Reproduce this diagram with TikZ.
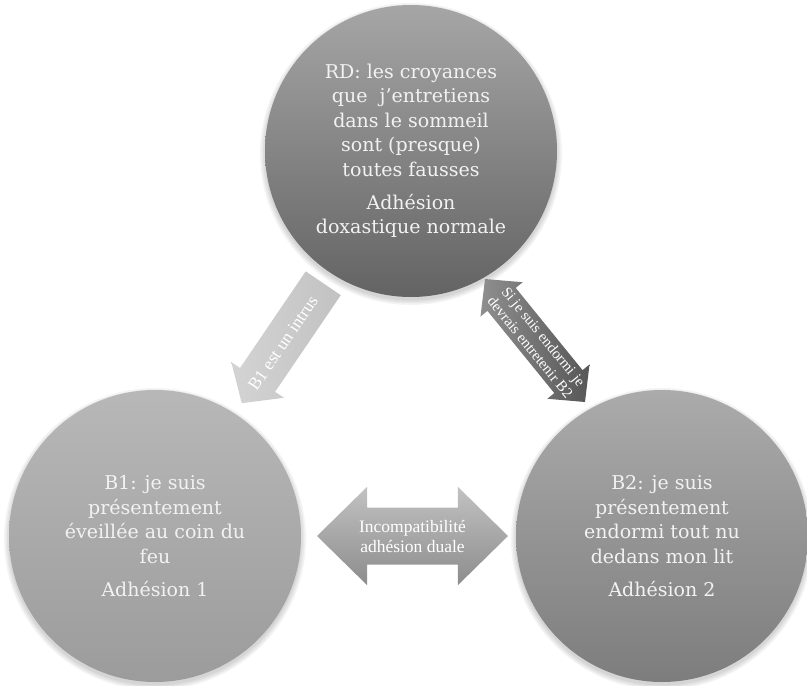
\documentclass[tikz,border=0pt]{standalone}
\usepackage{fontspec}
\setmainfont{DejaVu Serif}
\newfontfamily\arrowfont{Liberation Serif}
\usetikzlibrary{shapes.arrows}
\definecolor{txt}{gray}{0.95}
\begin{document}
\begin{tikzpicture}[x=1pt,y=-1pt,
  bubble/.style={circle, minimum size=292pt, inner sep=0pt, align=center,
    text=txt, font=\fontsize{19}{24.5}\selectfont},
  lbl/.style={align=center, text=white, inner sep=0pt},
  blockarrow/.style={draw=none, inner xsep=0pt}
]
\useasboundingbox (0,0) rectangle (807,686);

% soft shadows
\foreach \cx/\cy in {411/151,155/536,662/536}{
  \foreach \r in {146.5,148,149.5,151}{
    \fill[black, opacity=0.045] (\cx,\cy+3) circle[radius=\r];
  }
}

% circles
\node[bubble, top color=black!35, bottom color=black!61] (rd) at (411,151)
  {RD: les croyances\\que~~j’entretiens\\dans le sommeil\\sont (presque)\\toutes fausses\\[8.5pt]Adhésion\\doxastique normale};
\node[bubble, top color=black!28, bottom color=black!39] (b1) at (155,536)
  {B1: je suis\\présentement\\éveillée au coin du\\feu\\[8.5pt]Adhésion 1};
\node[bubble, top color=black!33, bottom color=black!51] (b2) at (662,536)
  {B2: je suis\\présentement\\endormi tout nu\\dedans mon lit\\[8.5pt]Adhésion 2};

% horizontal double arrow
\node[double arrow, blockarrow, minimum height=191pt, minimum width=98pt,
  inner ysep=28.3pt, double arrow head extend=20.7pt, double arrow tip angle=88.9,
  top color=black!24, bottom color=black!45] (inc) at (412.5,536) {};
\node[lbl, font=\arrowfont\fontsize{17.5}{20}\selectfont] (inctxt) at (inc.center)
  {Incompatibilité\\adhésion duale};

% double arrow RD <-> B2
\node[double arrow, blockarrow, rotate=-50.9, minimum height=158.5pt, minimum width=54pt,
  inner ysep=18pt, double arrow head extend=9pt, double arrow tip angle=92,
  left color=black!44, right color=black!66] (si) at (535,340.5) {};
\node[lbl, rotate=-50.9, font=\arrowfont\fontsize{15}{17}\selectfont] (sitxt) at (537,342)
  {Si je suis endormi je\\devrais entretenir B2};

% single arrow RD -> B1
\node[single arrow, blockarrow, rotate=235.8, anchor=tip, minimum height=145pt, minimum width=63.2pt,
  inner ysep=21pt, single arrow head extend=10.6pt, single arrow tip angle=97,
  left color=black!17, right color=black!24] (intr) at (241.6,403.4) {};
\node[lbl, rotate=55.8, font=\arrowfont\fontsize{17.5}{20}\selectfont] (intrtxt) at (283,343)
  {B1 est un intrus};
\end{tikzpicture}
\end{document}
